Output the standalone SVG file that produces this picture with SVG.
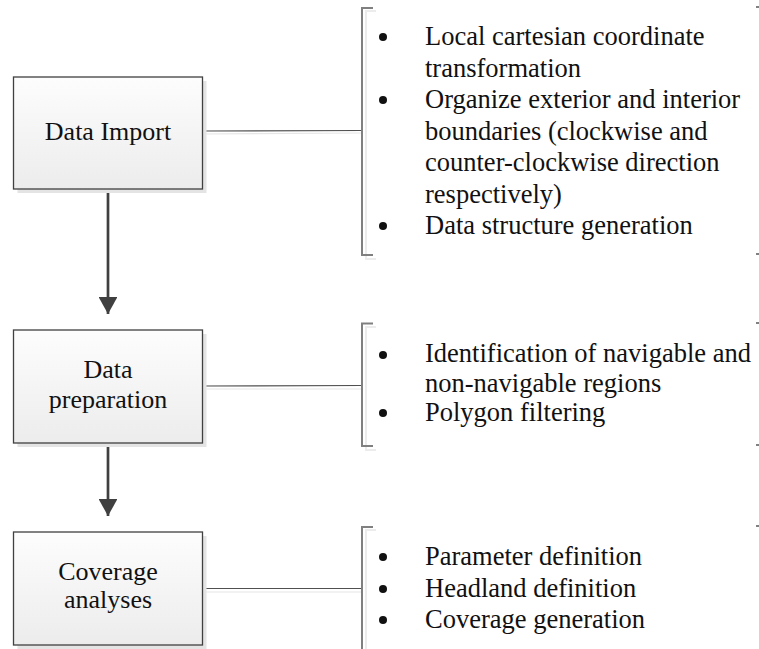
<svg xmlns="http://www.w3.org/2000/svg" width="759" height="649" viewBox="0 0 759 649">
<defs>
<linearGradient id="boxfill" x1="0" y1="0" x2="0" y2="1">
<stop offset="0" stop-color="#fdfdfd"/>
<stop offset="1" stop-color="#ececec"/>
</linearGradient>
<marker id="arrow" markerWidth="7" markerHeight="7" refX="6.3" refY="3.5" orient="auto" markerUnits="strokeWidth">
<path d="M0,0 L6.3,3.5 L0,7 Z" fill="#404040"/>
</marker>
<style>
.shadow{fill:#e4e4e4;}
.box{fill:url(#boxfill);stroke:#404040;stroke-width:1.3;}
.lbl{font-family:"Liberation Serif","Times New Roman",serif;font-size:26px;fill:#111;text-anchor:middle;}
.item{font-family:"Liberation Serif","Times New Roman",serif;font-size:26.5px;fill:#111;}
.bullet{fill:#111;}
.link{stroke:#505050;stroke-width:1.2;fill:none;}
.linkshadow{stroke:#e6e6e6;stroke-width:1.2;fill:none;}
.flow{stroke:#404040;stroke-width:2.7;fill:none;}
.brk{stroke:#808080;stroke-width:2;fill:none;}
.brkshadow{stroke:#ececec;stroke-width:2;fill:none;}
.tick{fill:#808080;}
</style>
</defs>
<g id="connectors">
<line class="linkshadow" x1="203" y1="134" x2="362" y2="133"/>
<line class="link" x1="202" y1="131" x2="362" y2="130.5"/>
<line class="linkshadow" x1="203" y1="389" x2="362" y2="389"/>
<line class="link" x1="202" y1="386" x2="362" y2="385.5"/>
<line class="linkshadow" x1="203" y1="592" x2="362" y2="592"/>
<line class="link" x1="202" y1="588.5" x2="362" y2="588.5"/>
<line class="flow" x1="108" y1="189" x2="108" y2="314" marker-end="url(#arrow)"/>
<line class="flow" x1="108" y1="443" x2="108" y2="516" marker-end="url(#arrow)"/>
</g>
<g id="node-data-import">
<rect class="shadow" x="17.5" y="81" width="189" height="112"/>
<rect class="box" x="13.5" y="77" width="189" height="112"/>
<text class="lbl" x="108" y="140">Data Import</text>
</g>
<g id="node-data-preparation">
<rect class="shadow" x="17.5" y="334" width="189" height="113"/>
<rect class="box" x="13.5" y="330" width="189" height="113"/>
<text class="lbl" x="108" y="378">Data</text>
<text class="lbl" x="108" y="408">preparation</text>
</g>
<g id="node-coverage-analyses">
<rect class="shadow" x="17.5" y="536" width="189" height="113"/>
<rect class="box" x="13.5" y="532" width="189" height="113"/>
<text class="lbl" x="108" y="580">Coverage</text>
<text class="lbl" x="108" y="608">analyses</text>
</g>
<g id="note-import">
<path class="brkshadow" d="M376,11 H366 V259 H376"/>
<path class="brk" d="M373,8 H362 V255 H373"/>
<rect class="tick" x="756" y="6" width="3" height="2"/>
<rect class="tick" x="756" y="253" width="3" height="2"/>
<circle class="bullet" cx="383" cy="37" r="4"/>
<text class="item" x="425" y="45">Local cartesian coordinate</text>
<text class="item" x="425" y="76.5">transformation</text>
<circle class="bullet" cx="383" cy="100" r="4"/>
<text class="item" x="425" y="108">Organize exterior and interior</text>
<text class="item" x="425" y="139.5">boundaries (clockwise and</text>
<text class="item" x="425" y="171">counter-clockwise direction</text>
<text class="item" x="425" y="202.5">respectively)</text>
<circle class="bullet" cx="383" cy="226" r="4"/>
<text class="item" x="425" y="234">Data structure generation</text>
</g>
<g id="note-preparation">
<path class="brkshadow" d="M376,327 H366 V450 H376"/>
<path class="brk" d="M373,323.5 H362 V446 H373"/>
<rect class="tick" x="756" y="322" width="3" height="2"/>
<rect class="tick" x="756" y="444" width="3" height="2"/>
<circle class="bullet" cx="383" cy="355" r="4"/>
<text class="item" x="425" y="362">Identification of navigable and</text>
<text class="item" x="425" y="392">non-navigable regions</text>
<circle class="bullet" cx="383" cy="413" r="4"/>
<text class="item" x="425" y="421">Polygon filtering</text>
</g>
<g id="note-coverage">
<path class="brkshadow" d="M376,530 H366 V649"/>
<path class="brk" d="M373,527 H362 V649"/>
<rect class="tick" x="756" y="525" width="3" height="2"/>
<circle class="bullet" cx="383" cy="557" r="4"/>
<text class="item" x="425" y="565">Parameter definition</text>
<circle class="bullet" cx="383" cy="589" r="4"/>
<text class="item" x="425" y="597">Headland definition</text>
<circle class="bullet" cx="383" cy="620" r="4"/>
<text class="item" x="425" y="628">Coverage generation</text>
</g>
</svg>
